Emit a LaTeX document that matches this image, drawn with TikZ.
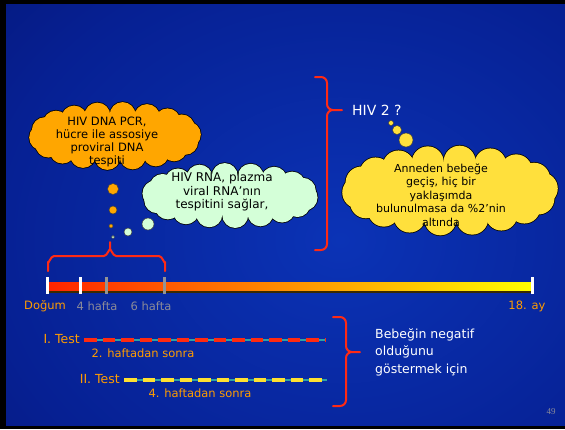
\documentclass[tikz,border=0pt]{standalone}
\usepackage{fontspec}
\setmainfont{DejaVu Sans}
\newfontfamily\numfont{Liberation Serif}
\definecolor{bgout}{HTML}{030B58}
\definecolor{bgmid}{HTML}{062093}
\definecolor{bgin}{HTML}{0B33B6}
\definecolor{bracered}{HTML}{FF2A14}
\definecolor{txtorange}{HTML}{FF9C00}
\definecolor{txtgray}{HTML}{8A8A98}
\definecolor{cloudorange}{HTML}{FFA600}
\definecolor{cloudgreen}{HTML}{D4FFD8}
\definecolor{cloudyellow}{HTML}{FFE03C}
\definecolor{dashred}{HTML}{FF2A10}
\definecolor{dashyellow}{HTML}{FFE030}
\definecolor{tealline}{HTML}{2EA3A3}
\definecolor{barred}{HTML}{FF2400}
\definecolor{barorange}{HTML}{FF9000}
\definecolor{baryellow}{HTML}{FFFF00}
\definecolor{barshadow}{HTML}{3A2A00}
\pgfdeclareradialshading{bgshade}{\pgfpoint{0bp}{0bp}}{color(0bp)=(bgin); color(22bp)=(bgmid); color(46bp)=(bgout); color(50bp)=(bgout)}
% cloud blob: #1 cx, #2 cy, #3 a, #4 b, #5 puffs, #6 puff radius, #7 fill colour, #8 angle offset
\newcommand\cloudblob[8]{%
  \foreach \k in {1,...,#5}{\draw[black, line width=1.5pt] ({#1+#3*cos(360*\k/#5+#8)},{#2+#4*sin(360*\k/#5+#8)}) circle (#6);}
  \foreach \k in {1,...,#5}{\fill[#7] ({#1+#3*cos(360*\k/#5+#8)},{#2+#4*sin(360*\k/#5+#8)}) circle (#6);}
  \fill[#7] (#1,#2) ellipse ({#3} and {#4});
}
\tikzset{
  brace/.style={draw=bracered, line width=2pt, line cap=round, line join=round},
  cloudtext/.style={align=center, text=black, inner sep=0pt},
  bubble/.style={draw=black!75, line width=0.5pt},
  lbl/.style={font=\fontsize{11.5}{13}\selectfont, inner sep=0pt},
  tickw/.style={fill=white},
  tickg/.style={fill=gray!85},
  dashbar/.style={line width=4pt, dash pattern=on 12.5pt off 6pt},
  thin teal/.style={draw=tealline, line width=1.2pt}
}
\begin{document}
\begin{tikzpicture}[x=1pt,y=-1pt]
\useasboundingbox (0,0) rectangle (565,429);
% background
\fill[black] (0,0) rectangle (565,429);
\fill[bgout] (6,4) rectangle (565,425);
\begin{scope}
  \clip (6,4) rectangle (565,425);
  \shade[shading=bgshade] (-60,-85) rectangle (740,565);
\end{scope}

% timeline bar
\fill[barshadow] (48,284) rectangle (534,292.5);
\shade[left color=barred, middle color=barorange, right color=baryellow] (48,282) rectangle (533,290);
\fill[tickw] (45.5,277) rectangle (48.5,294);
\fill[tickw] (78.5,277) rectangle (81.5,294);
\fill[tickg] (104.5,277) rectangle (107.5,294);
\fill[tickg] (162.5,277) rectangle (165.5,294);
\fill[tickw] (530.5,277) rectangle (533.5,294);

\node[lbl, text=txtorange] (dogum) at (45,306) {Doğum};
\node[lbl, text=txtgray] (h4) at (97,306) {4 hafta};
\node[lbl, text=txtgray] (h6) at (151,306) {6 hafta};
\node[lbl, text=txtorange] (ay18) at (527,306) {18. ay};

% small brace over first weeks
\draw[brace] (48,271) -- (48,262) to[out=270,in=180] (54,256) -- (104,256) to[out=0,in=90] (110,250) -- (110,242);
\draw[brace] (110,250) to[out=90,in=180] (116,256) -- (159,256) to[out=0,in=270] (165,262) -- (165,271);

% big vertical brace
\draw[brace] (315,77) -- (321,77) to[out=0,in=90] (327,83) -- (327,104) to[out=270,in=180] (333,110) -- (342,110);
\draw[brace] (333,110) to[out=180,in=90] (327,116) -- (327,244) to[out=270,in=0] (321,250) -- (315,250);

% bottom brace
\draw[brace] (333,317) -- (340,317) to[out=0,in=90] (346,323) -- (346,346) to[out=270,in=180] (352,352) -- (360,352);
\draw[brace] (352,352) to[out=180,in=90] (346,358) -- (346,400) to[out=270,in=0] (340,406) -- (333,406);

% clouds
\cloudblob{115}{136}{73}{21}{18}{13}{cloudorange}{16}
\cloudblob{230}{195.5}{75}{19.5}{18}{13}{cloudgreen}{6}
\cloudblob{450}{190.5}{92}{29}{18}{16}{cloudyellow}{16}
\node[cloudtext, font=\fontsize{11.5}{13}\selectfont] (t1) at (107,142) {HIV DNA PCR,\\hücre ile assosiye\\proviral DNA\\tespiti};
\node[cloudtext, font=\fontsize{12}{13.5}\selectfont] (t2) at (222,192) {HIV RNA, plazma\\viral RNA’nın\\tespitini sağlar,};
\node[cloudtext, font=\fontsize{11}{13.4}\selectfont] (t3) at (441,195) {Anneden bebeğe\\geçiş, hiç bir\\yaklaşımda\\bulunulmasa da \%2’nin\\altında};

% thought bubbles
\filldraw[bubble, fill=cloudorange] (113,189) circle (5.5);
\filldraw[bubble, fill=cloudorange] (113,210) circle (4);
\filldraw[bubble, fill=cloudorange] (111,226) circle (2);
\filldraw[bubble, fill=cloudgreen] (113,237) circle (1.6);
\filldraw[bubble, fill=cloudgreen] (128,232) circle (4);
\filldraw[bubble, fill=cloudgreen] (148,224) circle (6);
\filldraw[bubble, fill=cloudyellow] (391,123) circle (2.5);
\filldraw[bubble, fill=cloudyellow] (397,130) circle (4.5);
\filldraw[bubble, fill=cloudyellow] (406,140) circle (7);

% HIV 2
\node[text=white, font=\fontsize{14}{16}\selectfont, anchor=west, inner sep=0pt] (hiv2) at (352,110) {HIV 2 ?};

% tests
\node[lbl, text=txtorange, anchor=east, font=\fontsize{12.5}{14}\selectfont] (test1) at (80,339) {I. Test};
\coordinate (d1s) at (84,340);
\coordinate (d1e) at (325,340);
\draw[thin teal] (d1s) -- (d1e);
\draw[dashbar, draw=dashred] (d1s) -- (d1e);
\node[lbl, text=txtorange] (after2) at (143,353) {2. haftadan sonra};

\node[lbl, text=txtorange, anchor=east, font=\fontsize{12.5}{14}\selectfont] (test2) at (120,379) {II. Test};
\coordinate (d2s) at (124,380);
\coordinate (d2e) at (327,380);
\draw[thin teal] (d2s) -- (d2e);
\draw[dashbar, draw=dashyellow] (d2s) -- (d2e);
\node[lbl, text=txtorange] (after4) at (200,393) {4. haftadan sonra};

\node[text=white, font=\fontsize{12.5}{17.5}\selectfont, align=left, anchor=west, inner sep=0pt] (neg) at (375,352) {Bebeğin negatif\\olduğunu\\göstermek için};

\node[text=txtgray, font=\numfont\fontsize{9}{10}\selectfont, inner sep=0pt] (pg) at (551,412) {49};
\end{tikzpicture}
\end{document}
